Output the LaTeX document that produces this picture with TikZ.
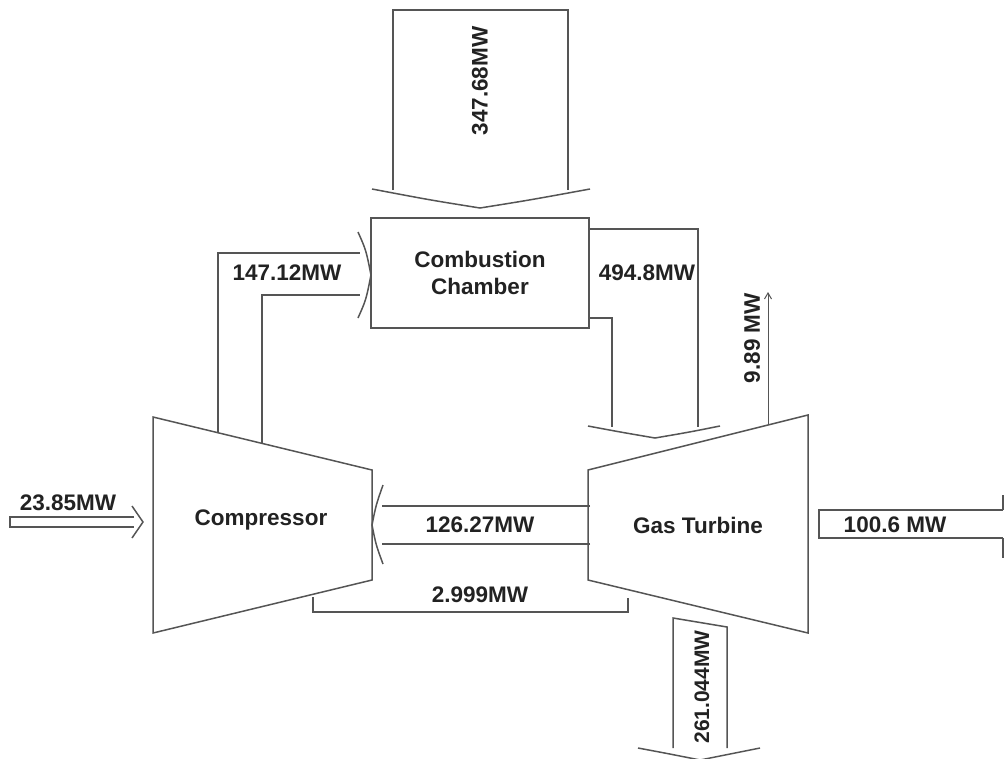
\documentclass[tikz,border=0pt]{standalone}
\usepackage{fontspec}
\setmainfont{Liberation Sans}
\usetikzlibrary{arrows.meta,positioning}
\definecolor{edgegray}{HTML}{555555}
\definecolor{txtgray}{HTML}{222222}

\begin{document}
\begin{tikzpicture}[x=1pt, y=-1pt,
        flow/.style={draw=edgegray, line width=1.5pt, line join=miter},
        lbl/.style={font=\fontsize{22.5}{27}\selectfont\bfseries, text=txtgray, inner sep=0pt, align=center}]
        \useasboundingbox (0,0) rectangle (1006,758);
        \clip (0,0) rectangle (1006,758);

        \draw[flow] (153,417) -- (372,470) -- (372,580) -- (153,633) -- cycle;
        \draw[flow] (588,470) -- (808,415) -- (808,633) -- (588,580) -- cycle;
        \node[lbl] (comp) at (261,520) {Compressor};
        \node[lbl] (turb) at (698,525) {Gas Turbine};

        \node[flow, minimum width=218pt, minimum height=110pt, inner sep=0pt] (cc) at (480,273) {};
        \node[lbl] (cclbl) at (cc.center) {Combustion\\Chamber};

        \draw[flow] (393,190) -- (393,10) -- (568,10) -- (568,190);
        \draw[flow] (372,189) .. controls (430,200) .. (480,208) .. controls (530,200) .. (590,189);
        \node[lbl, rotate=90] (fuel) at (480,81) {347.68MW};

        \draw[flow] (218,433) -- (218,253) -- (360,253);
        \draw[flow] (262,443) -- (262,295) -- (360,295);
        \draw[flow] (358,232) .. controls (366,250) .. (371,275) .. controls (366,300) .. (358,318);
        \node[lbl] (air) at (287,273) {147.12MW};

        \draw[flow] (589,229) -- (698,229) -- (698,427);
        \draw[flow] (589,318) -- (612,318) -- (612,427);
        \draw[flow] (588,426) .. controls (620,432) .. (655,438) .. controls (690,432) .. (720,426);
        \node[lbl] (gas) at (647,273) {494.8MW};

        \draw[flow, line width=1pt, -{Straight Barb[length=6pt, width=7pt]}] (768,425) -- (768,292);
        \node[lbl, rotate=90] (loss) at (752,338) {9.89 MW};

        \draw[flow] (134,517) -- (10,517) -- (10,527) -- (134,527);
        \draw[flow] (132,506) -- (143,522) -- (132,538);
        \node[lbl] (inlet) at (68,503) {23.85MW};

        \draw[flow] (590,506) -- (382,506);
        \draw[flow] (590,544) -- (382,544);
        \draw[flow] (383,485) .. controls (376,505) .. (372,525) .. controls (376,545) .. (383,564);
        \node[lbl] (shaft) at (480,525) {126.27MW};

        \draw[flow] (1003,510) -- (819,510) -- (819,538) -- (1003,538);
        \draw[flow] (1003,495) -- (1003,510);
        \draw[flow] (1003,538) -- (1003,558);
        \node[lbl] (net) at (895,525) {100.6 MW};

        \draw[flow] (313,597) -- (313,612) -- (628,612) -- (628,598);
        \node[lbl] (cool) at (480,595) {2.999MW};

        \draw[flow] (673,748) -- (673,618) -- (727,627) -- (727,748);
        \draw[flow] (638,748) .. controls (670,754) .. (700,760) .. controls (730,754) .. (760,748);
        \node[lbl, rotate=90, font=\fontsize{21}{25}\selectfont\bfseries] (exh) at (702,687) {261.044MW};
\end{tikzpicture}
\end{document}
